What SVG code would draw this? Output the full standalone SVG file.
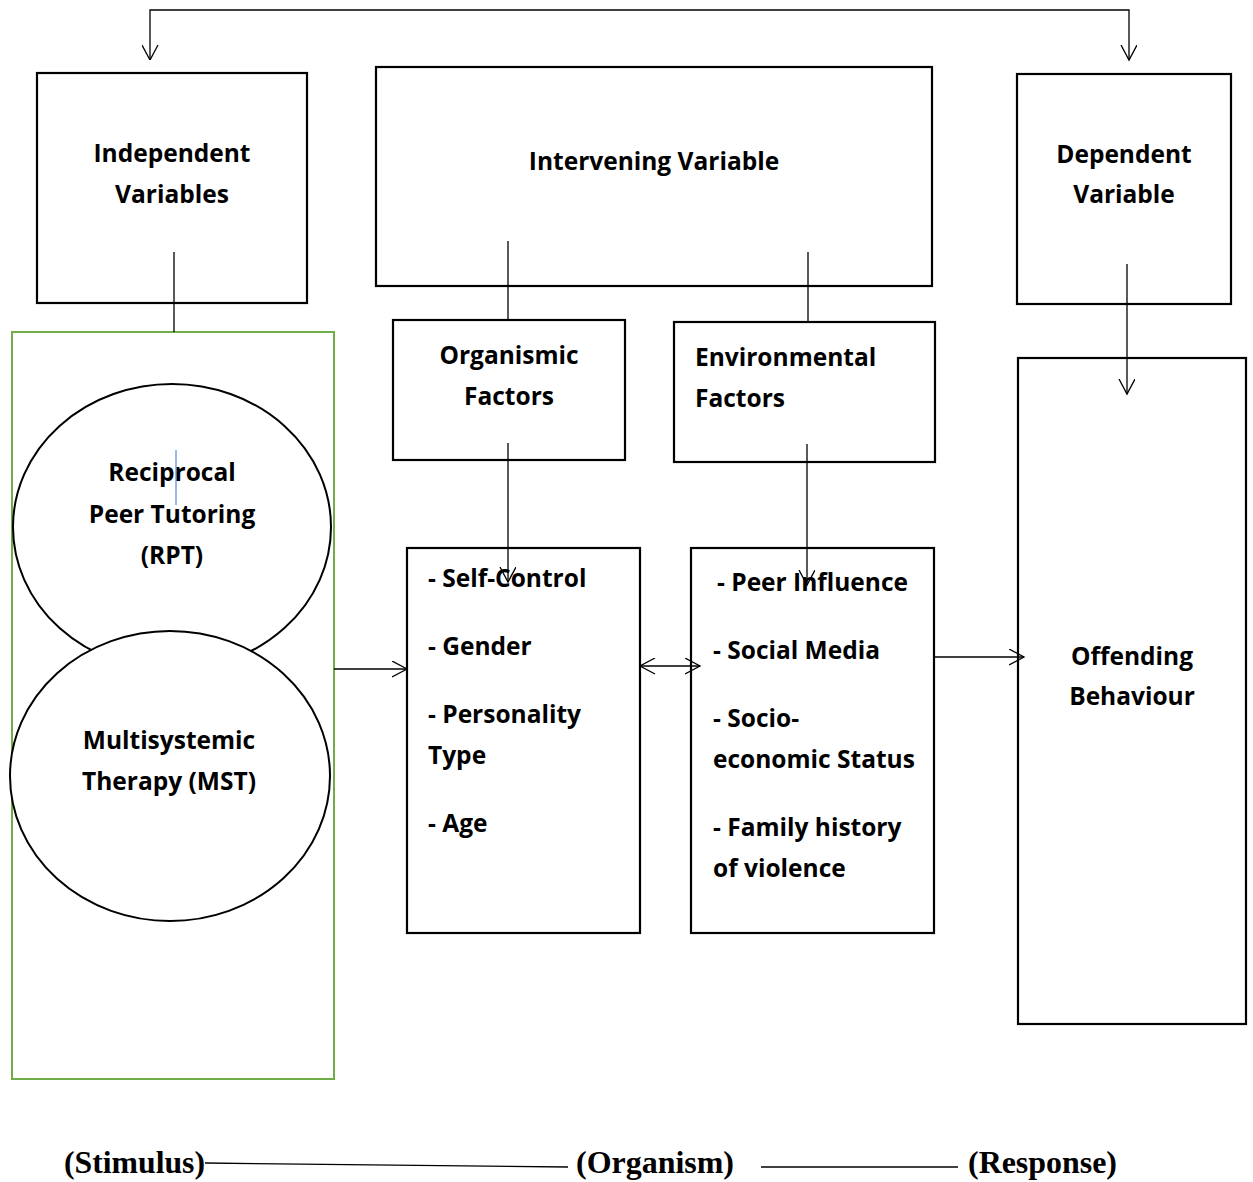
<svg xmlns="http://www.w3.org/2000/svg" width="1253" height="1182" viewBox="0 0 1253 1182">
<defs>
<marker id="arr" markerWidth="20" markerHeight="20" refX="15" refY="8" orient="auto" markerUnits="userSpaceOnUse">
<path d="M0,0 L15,8 L0,16" fill="none" stroke="#000" stroke-width="1.3"/>
</marker>
<marker id="arrs" markerWidth="20" markerHeight="20" refX="0" refY="8" orient="auto" markerUnits="userSpaceOnUse">
<path d="M15,0 L0,8 L15,16" fill="none" stroke="#000" stroke-width="1.3"/>
</marker>
<style>
.box{fill:#fff;stroke:#000;stroke-width:2.2}
.t{font-family:"Open Sans","DejaVu Sans",sans-serif;font-weight:bold;font-size:24.5px;fill:#000}
.c{text-anchor:middle}
.ln{stroke:#000;stroke-width:1.3;fill:none}
.lbl{font-family:"Liberation Serif","Times New Roman",serif;font-weight:bold;font-size:31px;fill:#000}
</style>
</defs>
<rect width="1253" height="1182" fill="#fff"/>
<g id="independent">
<rect class="box" x="37" y="73" width="270" height="230"/>
<text class="t c" x="172" y="162">Independent</text>
<text class="t c" x="172" y="203">Variables</text>
</g>
<g id="intervening">
<rect class="box" x="376" y="67" width="556" height="219"/>
<text class="t c" x="654" y="170">Intervening Variable</text>
</g>
<g id="dependent">
<rect class="box" x="1017" y="74" width="214" height="230"/>
<text class="t c" x="1124" y="163">Dependent</text>
<text class="t c" x="1124" y="203">Variable</text>
</g>
<g id="stimulus-group">
<rect x="12" y="332" width="322" height="747" fill="#fff" stroke="#70ad47" stroke-width="2"/>
</g>
<g id="rpt">
<ellipse cx="172" cy="527" rx="159" ry="143" fill="#fff" stroke="#000" stroke-width="2"/>
<text class="t c" x="172" y="481">Reciprocal</text>
<text class="t c" x="172" y="523">Peer Tutoring</text>
<text class="t c" x="172" y="564">(RPT)</text>
<line x1="176" y1="450" x2="176" y2="505" stroke="#2e75d6" stroke-width="1"/>
</g>
<g id="mst">
<ellipse cx="170" cy="776" rx="160" ry="145" fill="#fff" stroke="#000" stroke-width="2"/>
<text class="t c" x="169" y="749">Multisystemic</text>
<text class="t c" x="169" y="790">Therapy (MST)</text>
</g>
<g id="organismic">
<rect class="box" x="393" y="320" width="232" height="140"/>
<text class="t c" x="509" y="364">Organismic</text>
<text class="t c" x="509" y="405">Factors</text>
</g>
<g id="environmental">
<rect class="box" x="674" y="322" width="261" height="140"/>
<text class="t" x="695" y="366">Environmental</text>
<text class="t" x="695" y="407">Factors</text>
</g>
<g id="organismic-list">
<rect class="box" x="407" y="548" width="233" height="385"/>
<text class="t" x="428" y="587">- Self-Control</text>
<text class="t" x="428" y="655">- Gender</text>
<text class="t" x="428" y="723">- Personality</text>
<text class="t" x="428" y="764">Type</text>
<text class="t" x="428" y="832">- Age</text>
</g>
<g id="environmental-list">
<rect class="box" x="691" y="548" width="243" height="385"/>
<text class="t" x="717" y="591">- Peer Influence</text>
<text class="t" x="713" y="659">- Social Media</text>
<text class="t" x="713" y="727">- Socio-</text>
<text class="t" x="713" y="768">economic Status</text>
<text class="t" x="713" y="836">- Family history</text>
<text class="t" x="713" y="877">of violence</text>
</g>
<g id="offending">
<rect class="box" x="1018" y="358" width="228" height="666"/>
<text class="t c" x="1132" y="665">Offending</text>
<text class="t c" x="1132" y="705">Behaviour</text>
</g>
<g id="connectors">
<polyline class="ln" points="150,60 150,10 1129,10 1129,60" marker-start="url(#arrs)" marker-end="url(#arr)"/>
<line class="ln" x1="174" y1="252" x2="174" y2="332"/>
<line class="ln" x1="508" y1="241" x2="508" y2="320"/>
<line class="ln" x1="808" y1="252" x2="808" y2="322"/>
<line class="ln" x1="508" y1="443" x2="508" y2="582" marker-end="url(#arr)"/>
<line class="ln" x1="807" y1="444" x2="807" y2="585" marker-end="url(#arr)"/>
<line class="ln" x1="1127" y1="264" x2="1127" y2="394" marker-end="url(#arr)"/>
<line class="ln" x1="334" y1="669" x2="407" y2="669" marker-end="url(#arr)"/>
<line class="ln" x1="640" y1="666" x2="700" y2="666" marker-start="url(#arrs)" marker-end="url(#arr)"/>
<line class="ln" x1="934" y1="657" x2="1024" y2="657" marker-end="url(#arr)"/>
<line class="ln" x1="205" y1="1163" x2="568" y2="1167"/>
<line class="ln" x1="761" y1="1167" x2="958" y2="1167"/>
</g>
<g id="labels">
<text class="lbl" x="64" y="1173" textLength="141" lengthAdjust="spacingAndGlyphs">(Stimulus)</text>
<text class="lbl" x="576" y="1173" textLength="158" lengthAdjust="spacingAndGlyphs">(Organism)</text>
<text class="lbl" x="968" y="1173" textLength="149" lengthAdjust="spacingAndGlyphs">(Response)</text>
</g>
</svg>
